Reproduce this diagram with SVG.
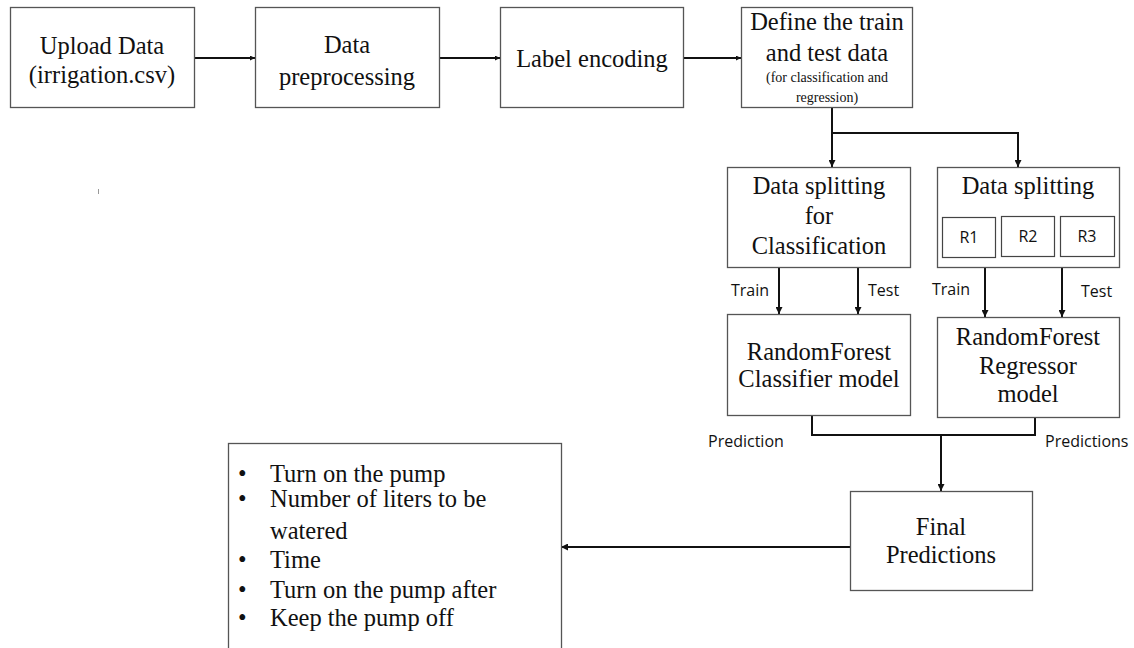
<svg xmlns="http://www.w3.org/2000/svg" width="1134" height="648" viewBox="0 0 1134 648">
<defs>
<style>
.box{fill:#fff;stroke:#555;stroke-width:1.3}
.sbox{fill:#fff;stroke:#444;stroke-width:1.2}
.t{font-family:"Liberation Serif","Times New Roman",serif;font-size:24.5px;fill:#111;text-anchor:middle}
.ts{font-family:"Liberation Serif","Times New Roman",serif;font-size:14px;fill:#111;text-anchor:middle}
.tl{font-family:"Liberation Serif","Times New Roman",serif;font-size:24.5px;fill:#111}
.c{font-family:"Open Sans","Liberation Sans",sans-serif;font-size:16px;fill:#111}
.ln{fill:none;stroke:#111;stroke-width:2}
</style>
<marker id="ah" viewBox="0 0 10 10" refX="10" refY="5" markerWidth="5" markerHeight="5" orient="auto" markerUnits="userSpaceOnUse">
<path d="M0,0 L10,5 L0,10 z" fill="#111"/>
</marker>
<marker id="ah2" viewBox="0 0 10 10" refX="10" refY="5" markerWidth="7" markerHeight="7" orient="auto" markerUnits="userSpaceOnUse">
<path d="M0,0 L10,5 L0,10 z" fill="#111"/>
</marker>
</defs>
<rect width="1134" height="648" fill="#fff"/>

<g id="connectors">
<line class="ln" x1="194" y1="58" x2="255" y2="58" marker-end="url(#ah)"/>
<line class="ln" x1="439" y1="58" x2="500" y2="58" marker-end="url(#ah)"/>
<line class="ln" x1="683" y1="58" x2="741" y2="58" marker-end="url(#ah)"/>
<polyline class="ln" points="832,107 832,133 1018,133 1018,167" marker-end="url(#ah2)"/>
<line class="ln" x1="832" y1="133" x2="832" y2="167" marker-end="url(#ah2)"/>
<line class="ln" x1="779" y1="267" x2="779" y2="314" marker-end="url(#ah2)"/>
<line class="ln" x1="858" y1="267" x2="858" y2="314" marker-end="url(#ah2)"/>
<line class="ln" x1="985" y1="267" x2="985" y2="317" marker-end="url(#ah2)"/>
<line class="ln" x1="1062" y1="267" x2="1062" y2="317" marker-end="url(#ah2)"/>
<polyline class="ln" points="812,415 812,435 1035,435 1035,417"/>
<line class="ln" x1="941" y1="435" x2="941" y2="491" marker-end="url(#ah2)"/>
<line class="ln" x1="851" y1="547" x2="561" y2="547" marker-end="url(#ah2)"/>
</g>

<g id="upload">
<rect class="box" x="10.5" y="7.5" width="184" height="100"/>
<text class="t" x="102" y="54">Upload Data</text>
<text class="t" x="102" y="83">(irrigation.csv)</text>
</g>
<g id="preprocessing">
<rect class="box" x="255.5" y="7.5" width="184" height="100"/>
<text class="t" x="347" y="53">Data</text>
<text class="t" x="347" y="85">preprocessing</text>
</g>
<g id="labelenc">
<rect class="box" x="500.5" y="7.5" width="183" height="100"/>
<text class="t" x="592" y="67">Label encoding</text>
</g>
<g id="define">
<rect class="box" x="741.5" y="7.5" width="171" height="100"/>
<text class="t" x="827" y="30">Define the train</text>
<text class="t" x="827" y="61">and test data</text>
<text class="ts" x="827" y="82">(for classification and</text>
<text class="ts" x="827" y="102">regression)</text>
</g>
<g id="split-class">
<rect class="box" x="727.5" y="167.5" width="183" height="100"/>
<text class="t" x="819" y="194">Data splitting</text>
<text class="t" x="819" y="224">for</text>
<text class="t" x="819" y="254">Classification</text>
</g>
<g id="split-reg">
<rect class="box" x="937.5" y="167.5" width="182" height="100"/>
<text class="t" x="1028" y="194">Data splitting</text>
<rect class="sbox" x="942.5" y="217.5" width="53" height="40"/>
<rect class="sbox" x="1001.5" y="216.5" width="53" height="40"/>
<rect class="sbox" x="1060.5" y="216.5" width="54" height="40"/>
<text class="c" x="969" y="243" text-anchor="middle">R1</text>
<text class="c" x="1028" y="242" text-anchor="middle">R2</text>
<text class="c" x="1087" y="242" text-anchor="middle">R3</text>
</g>
<g id="labels">
<text class="c" x="731" y="296">Train</text>
<text class="c" x="868" y="296">Test</text>
<text class="c" x="932" y="295">Train</text>
<text class="c" x="1081" y="297">Test</text>
<text class="c" x="708" y="447">Prediction</text>
<text class="c" x="1045" y="447">Predictions</text>
</g>
<g id="classifier">
<rect class="box" x="727.5" y="314.5" width="183" height="101"/>
<text class="t" x="819" y="360">RandomForest</text>
<text class="t" x="819" y="387">Classifier model</text>
</g>
<g id="regressor">
<rect class="box" x="937.5" y="317.5" width="182" height="100"/>
<text class="t" x="1028" y="345">RandomForest</text>
<text class="t" x="1028" y="374">Regressor</text>
<text class="t" x="1028" y="402">model</text>
</g>
<g id="final">
<rect class="box" x="850.5" y="491.5" width="182" height="99"/>
<text class="t" x="941" y="535">Final</text>
<text class="t" x="941" y="563">Predictions</text>
</g>
<g id="outputs">
<rect class="box" x="228.5" y="443.5" width="333" height="220"/>
<text class="tl" x="238" y="482">•</text>
<text class="tl" x="270" y="482">Turn on the pump</text>
<text class="tl" x="238" y="507">•</text>
<text class="tl" x="270" y="507">Number of liters to be</text>
<text class="tl" x="270" y="539">watered</text>
<text class="tl" x="238" y="568">•</text>
<text class="tl" x="270" y="568">Time</text>
<text class="tl" x="238" y="598">•</text>
<text class="tl" x="270" y="598">Turn on the pump after</text>
<text class="tl" x="238" y="626">•</text>
<text class="tl" x="270" y="626">Keep the pump off</text>
</g>
<line x1="98.5" y1="189" x2="98.5" y2="194" stroke="#999" stroke-width="1"/>
</svg>
